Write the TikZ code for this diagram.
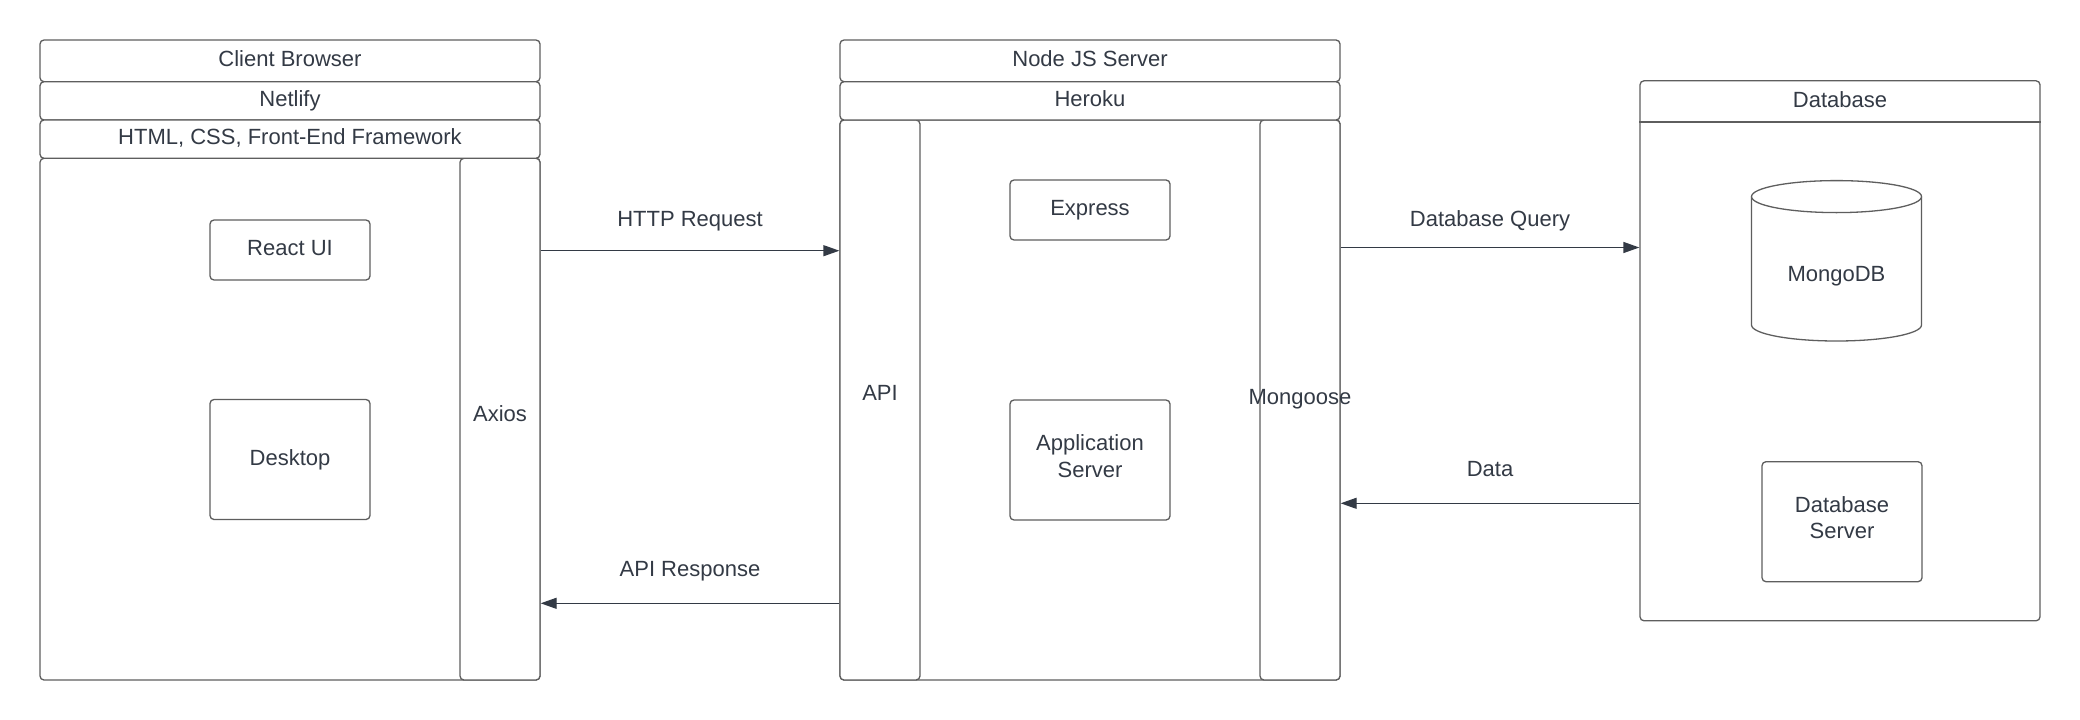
\documentclass[tikz,border=0pt]{standalone}
\usepackage{fontspec}
\setmainfont{Liberation Sans}
\usetikzlibrary{arrows.meta}
\definecolor{ln}{HTML}{5E5E5E}
\definecolor{tx}{HTML}{333A45}
\begin{document}
\begin{tikzpicture}[x=1pt,y=-1pt,
  every node/.style={font=\fontsize{22}{26.5}\selectfont, text=tx},
  one/.style={text height=16.5pt, text depth=5.1pt},
  box/.style={draw=ln, line width=1.3pt, rounded corners=4pt, fill=white, inner sep=0pt, align=center},
  lbl/.style={inner sep=0pt, align=center},
  arr/.style={draw=tx, line width=1.3pt, -{Triangle[length=16pt,width=11pt]}}]
\fill[white] (0,0) rectangle (2080,720);
\useasboundingbox (0,0) rectangle (2080,720);

% ---------- Client Browser ----------
\node[box, minimum width=500pt, minimum height=521.7pt] (cbBody) at (290,419.15) {};
\node[box, minimum width=80pt, minimum height=521.7pt] (axios) at (500,419.15) {};
\node[lbl, one] (axiosL) at (500,415.3) {Axios};
\node[box, one, minimum width=500pt, minimum height=41.7pt] (cbTitle) at (290,60.85) {Client Browser};
\node[box, one, minimum width=500pt, minimum height=38.3pt] (netlify) at (290,100.85) {Netlify};
\node[box, one, minimum width=500pt, minimum height=38.3pt] (html) at (290,139.15) {HTML, CSS, Front-End Framework};
\node[box, one, minimum width=160pt, minimum height=60pt] (react) at (290,250) {React UI};
\node[box, one, minimum width=160pt, minimum height=120pt] (desktop) at (290,459.5) {Desktop};

% ---------- Node JS Server ----------
\node[box, minimum width=500pt, minimum height=560pt] (nsBody) at (1090,400) {};
\node[box, minimum width=80pt, minimum height=560pt] (api) at (880,400) {};
\node[lbl, one] (apiL) at (880,395.1) {API};
\node[box, minimum width=80pt, minimum height=560pt] (mongoose) at (1300,400) {};
\node[lbl, one] (mongooseL) at (1300,398.6) {Mongoose};
\node[box, one, minimum width=500pt, minimum height=41.7pt] (nsTitle) at (1090,60.85) {Node JS Server};
\node[box, one, minimum width=500pt, minimum height=38.3pt] (heroku) at (1090,100.85) {Heroku};
\node[box, one, minimum width=160pt, minimum height=60pt] (express) at (1090,210) {Express};
\node[box, minimum width=160pt, minimum height=120pt] (appserver) at (1090,460) {};
\node[lbl] (appserverL) at (1090,456.3) {Application\\Server};

% ---------- Database ----------
\node[box, minimum width=400pt, minimum height=540pt] (dbBox) at (1840,350.8) {};
\draw[draw=ln, line width=1.3pt] (dbBox.west |- 0,122) -- (dbBox.east |- 0,122);
\node[lbl, one] (dbTitle) at (1840,101.3) {Database};
\draw[draw=ln, line width=1.3pt, fill=white]
  (1751.5,196.6) -- (1751.5,325) arc[start angle=180, end angle=360, x radius=85pt, y radius=16pt]
  -- (1921.5,196.6);
\draw[draw=ln, line width=1.3pt, fill=white] (1836.5,196.6) ellipse [x radius=85pt, y radius=16pt];
\node[lbl, one] (mongodb) at (1836.5,275.3) {MongoDB};
\node[box, minimum width=160pt, minimum height=120pt] (dbserver) at (1842,521.7) {};
\node[lbl] (dbserverL) at (1842,517.7) {Database\\Server};

% ---------- Connectors ----------
\draw[arr] (axios.east |- 0,250.7) -- (api.west |- 0,250.7);
\node[lbl, one] (httpL) at (690,221) {HTTP Request};
\draw[arr] (api.west |- 0,603.3) -- (axios.east |- 0,603.3);
\node[lbl, one] (respL) at (690,570.3) {API Response};
\draw[arr] (mongoose.east |- 0,247.5) -- (dbBox.west |- 0,247.5);
\node[lbl, one] (queryL) at (1490,221) {Database Query};
\draw[arr] (dbBox.west |- 0,503.3) -- (mongoose.east |- 0,503.3);
\node[lbl, one] (dataL) at (1490,470.3) {Data};
\end{tikzpicture}
\end{document}
